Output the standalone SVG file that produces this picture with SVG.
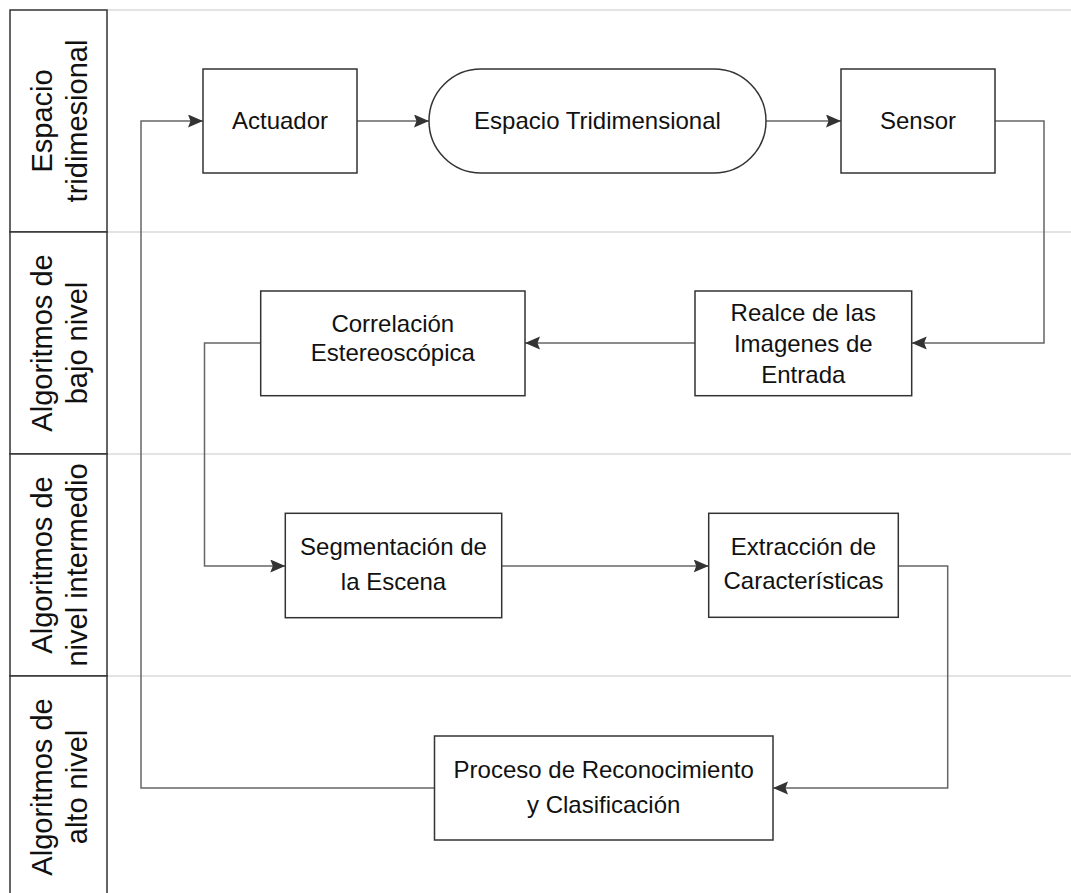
<svg xmlns="http://www.w3.org/2000/svg" width="1071" height="893" viewBox="0 0 1071 893">
  <style>
    .lane { fill: #ffffff; stroke: #333333; stroke-width: 1.5; }
    .sep { stroke: #c8c8c8; stroke-width: 1.2; fill: none; }
    .node { fill: #ffffff; stroke: #333333; stroke-width: 1.5; }
    .hdr { font-family: "Liberation Sans", Arial, sans-serif; font-size: 29px; fill: #111111; text-anchor: middle; }
    .lbl { font-family: "Liberation Sans", Arial, sans-serif; font-size: 24px; fill: #111111; text-anchor: middle; }
    .conn { stroke: #666666; stroke-width: 1.5; fill: none; }
  </style>
  <defs>
    <marker id="arrow" markerUnits="userSpaceOnUse" markerWidth="16" markerHeight="14" refX="15" refY="6.5" orient="auto">
      <path d="M0,0 L15,6.5 L0,13 L2.5,6.5 Z" fill="#333333"/>
    </marker>
  </defs>
  <rect width="1071" height="893" fill="#ffffff"/>

  <g id="lanes">
    <line class="sep" x1="107" y1="10" x2="1071" y2="10"/>
    <line class="sep" x1="107" y1="232" x2="1071" y2="232"/>
    <line class="sep" x1="107" y1="454" x2="1071" y2="454"/>
    <line class="sep" x1="107" y1="676" x2="1071" y2="676"/>
    <g id="lane-espacio">
      <rect class="lane" x="10" y="10" width="97" height="222"/>
      <g transform="translate(58.5,121) rotate(-90)">
        <text class="hdr" x="0" y="-6.8">Espacio</text>
        <text class="hdr" x="0" y="28.5">tridimesional</text>
      </g>
    </g>
    <g id="lane-bajo">
      <rect class="lane" x="10" y="232" width="97" height="222"/>
      <g transform="translate(58.5,343) rotate(-90)">
        <text class="hdr" x="0" y="-6.8">Algoritmos de</text>
        <text class="hdr" x="0" y="28.5">bajo nivel</text>
      </g>
    </g>
    <g id="lane-intermedio">
      <rect class="lane" x="10" y="454" width="97" height="222"/>
      <g transform="translate(58.5,565) rotate(-90)">
        <text class="hdr" x="0" y="-6.8">Algoritmos de</text>
        <text class="hdr" x="0" y="28.5">nivel intermedio</text>
      </g>
    </g>
    <g id="lane-alto">
      <rect class="lane" x="10" y="676" width="97" height="222"/>
      <g transform="translate(58.5,787) rotate(-90)">
        <text class="hdr" x="0" y="-6.8">Algoritmos de</text>
        <text class="hdr" x="0" y="28.5">alto nivel</text>
      </g>
    </g>
  </g>

  <g id="connectors">
    <polyline class="conn" points="434.5,788 141,788 141,121 203,121" marker-end="url(#arrow)"/>
    <line class="conn" x1="357" y1="121" x2="429" y2="121" marker-end="url(#arrow)"/>
    <line class="conn" x1="766" y1="121" x2="841" y2="121" marker-end="url(#arrow)"/>
    <polyline class="conn" points="995,121 1044,121 1044,343 911.7,343" marker-end="url(#arrow)"/>
    <line class="conn" x1="695" y1="343" x2="525" y2="343" marker-end="url(#arrow)"/>
    <polyline class="conn" points="260.7,343 204.5,343 204.5,566 285.3,566" marker-end="url(#arrow)"/>
    <line class="conn" x1="501.7" y1="566" x2="708.7" y2="566" marker-end="url(#arrow)"/>
    <polyline class="conn" points="898.3,566 947.7,566 947.7,788 773,788" marker-end="url(#arrow)"/>
  </g>

  <g id="actuador">
    <rect class="node" x="203" y="69" width="154" height="104"/>
    <text class="lbl" x="280" y="129.3">Actuador</text>
  </g>
  <g id="espacio-tridimensional">
    <rect class="node" x="429" y="69" width="337" height="104" rx="52" ry="52"/>
    <text class="lbl" x="597.5" y="129.3">Espacio Tridimensional</text>
  </g>
  <g id="sensor">
    <rect class="node" x="841" y="69" width="154" height="104"/>
    <text class="lbl" x="918" y="129.3">Sensor</text>
  </g>
  <g id="realce">
    <rect class="node" x="695" y="291" width="216.7" height="104.7"/>
    <text class="lbl" x="803.3" y="321">Realce de las</text>
    <text class="lbl" x="803.3" y="351.7">Imagenes de</text>
    <text class="lbl" x="803.3" y="382.5">Entrada</text>
  </g>
  <g id="correlacion">
    <rect class="node" x="260.7" y="291" width="264.3" height="104.7"/>
    <text class="lbl" x="392.8" y="331.7">Correlación</text>
    <text class="lbl" x="392.8" y="360.7">Estereoscópica</text>
  </g>
  <g id="segmentacion">
    <rect class="node" x="285.3" y="513.3" width="216.4" height="104.4"/>
    <text class="lbl" x="393.5" y="555">Segmentación de</text>
    <text class="lbl" x="393.5" y="590">la Escena</text>
  </g>
  <g id="extraccion">
    <rect class="node" x="708.7" y="513.3" width="189.6" height="104"/>
    <text class="lbl" x="803.5" y="555">Extracción de</text>
    <text class="lbl" x="803.5" y="589">Características</text>
  </g>
  <g id="proceso">
    <rect class="node" x="434.5" y="736" width="338.5" height="104"/>
    <text class="lbl" x="603.7" y="778">Proceso de Reconocimiento</text>
    <text class="lbl" x="603.7" y="813">y Clasificación</text>
  </g>
</svg>
